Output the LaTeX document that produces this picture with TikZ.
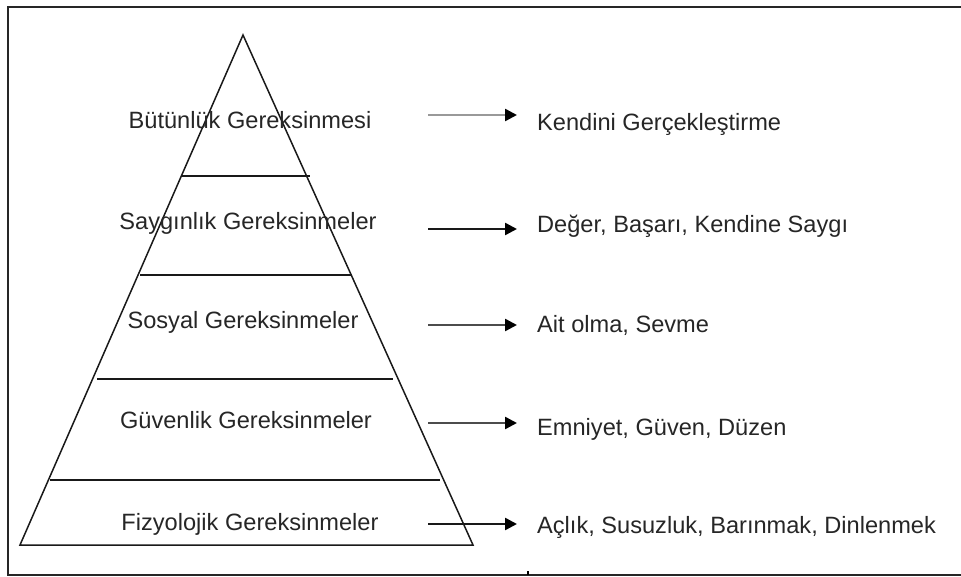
\documentclass[tikz,border=0pt]{standalone}
\usepackage{fontspec}
\setmainfont{Liberation Sans}
\usetikzlibrary{arrows.meta}
\begin{document}
\begin{tikzpicture}[x=1pt,y=-1pt,
  frameline/.style={line width=2.8pt,draw=black!85},
  pyr/.style={line width=1.5pt,draw=black!90},
  level/.style={font=\fontsize{23.6}{26}\selectfont,inner sep=0pt,anchor=base,text=black!85},
  need/.style={font=\fontsize{23.6}{26}\selectfont,inner sep=0pt,anchor=base west,text=black!85},
  arr/.style={line width=2.5pt,-{Triangle[length=12pt,width=12pt,black]},shorten >=20pt},
]
\useasboundingbox (0,0) rectangle (961,577);

% open frame
\draw[frameline] (962,7) -- (8,7) -- (8,575) -- (962,575);
\draw[line width=1.4pt] (528,575) -- (528,571);

% pyramid outline and level dividers
\coordinate (apex) at (243,35);
\coordinate (bl) at (20,545);
\coordinate (br) at (473,545);
\draw[pyr] (apex) -- (bl) -- (br) -- cycle;
\draw[pyr] (182,176) -- (310,176);
\draw[pyr] (140,275) -- (352,275);
\draw[pyr] (97,379) -- (393,379);
\draw[pyr] (50,480) -- (440,480);

% level names
\node[level] (l1) at (250,129) {Bütünlük Gereksinmesi};
\node[level] (l2) at (248,230) {Saygınlık Gereksinmeler};
\node[level] (l3) at (243,328) {Sosyal Gereksinmeler};
\node[level] (l4) at (246,428) {Güvenlik Gereksinmeler};
\node[level] (l5) at (250,530) {Fizyolojik Gereksinmeler};

% needs at each level
\node[need] (t1) at (537,131) {Kendini Gerçekleştirme};
\node[need] (t2) at (537,233) {Değer, Başarı, Kendine Saygı};
\node[need] (t3) at (537,332) {Ait olma, Sevme};
\node[need] (t4) at (537,435) {Emniyet, Güven, Düzen};
\node[need] (t5) at (537,533) {Açlık, Susuzluk, Barınmak, Dinlenmek};

% arrows from levels to needs
\coordinate (a1) at (428,115);
\coordinate (a2) at (428,229);
\coordinate (a3) at (428,325);
\coordinate (a4) at (428,423);
\coordinate (a5) at (428,524);
\draw[arr,draw=black!40] (a1) -- (a1 -| t1.west);
\draw[arr,draw=black!90] (a2) -- (a2 -| t2.west);
\draw[arr,draw=black!70] (a3) -- (a3 -| t3.west);
\draw[arr,draw=black!70] (a4) -- (a4 -| t4.west);
\draw[arr,draw=black!90] (a5) -- (a5 -| t5.west);
\end{tikzpicture}
\end{document}
